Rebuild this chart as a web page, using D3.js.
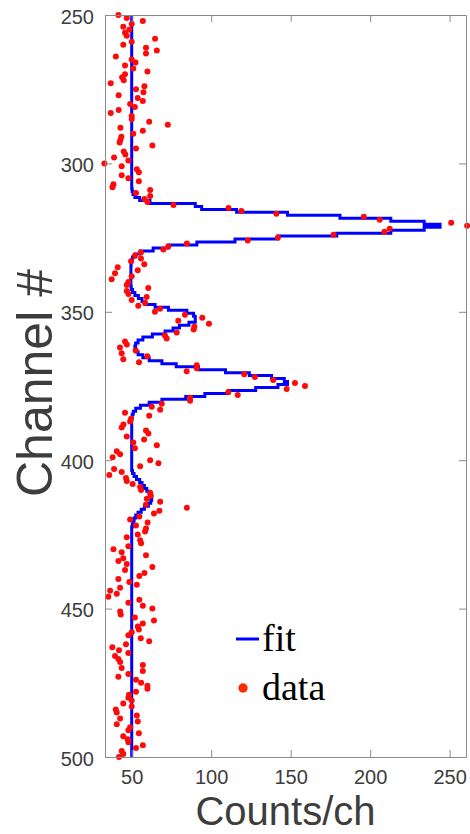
<!DOCTYPE html>
<html>
<head>
<meta charset="utf-8">
<script src="https://cdn.jsdelivr.net/npm/d3@7"></script>
<style>
  html, body { margin: 0; padding: 0; background: #fff; }
  svg { display: block; }
</style>
</head>
<body>
<svg id="chart" width="470" height="834"></svg>
<script>
// ---- data ----
const channelStart = 250;   // first channel; one value per channel below
const counts = [
  41.6, 46.9, 57, 50, 44.7, 48.5, 45.8, 46.9, 64.7, 50,          // 250-259
  44.7, 59, 65.8, 59, 40, 50, 52.4, 45.8, 51, 59.9,              // 260-269
  45.8, 44, 45, 36.8, 58, 52.7, 57.4, 41.8, 53.8, 57,            // 270-279
  49, 52, 41.8, 36.8, 50, 50, 61, 72.7, 42.9, 57,                // 280-289
  51, 43.5, 42.9, 42.4, 63, 52.7, 45, 46, 38.9, 47.9,            // 290-299
  32.8, 43.7, 53.2, 54.5, 43.7, 47.9, 54.5, 38.5, 37.9, 61.6,    // 300-309
  52.7, 61.6, 58, 59.9, 76.3, 110.9, 119, 141, 196, 206,         // 310-319
  251, 261, 212.3, 209, 177, 142, 123, 84.7, 73, 69.9,           // 320-329
  55.8, 52.1, 55.8, 49.6, 57.9, 41.2, 53.8, 39.5, 50, 37.4,      // 330-339
  47.9, 46.9, 60.4, 46.9, 48, 59.4, 50, 58.4, 54.1, 67.8,        // 340-349
  64.6, 83.5, 94.4, 79.3, 98.6, 89.4, 89, 78.3, 70.9, 72,        // 350-359
  45.8, 46.9, 42.6, 52.5, 43.7, 59.8, 44.7, 54.6, 90.9, 90.9,    // 360-369
  84.6, 120.8, 127.5, 139, 152.7, 159, 147.5, 110.8, 116.7, 86.7,// 370-379
  86.7, 68.9, 62.6, 67.9, 45.8, 61, 49.6, 49, 44.8, 43.7,        // 380-389
  59, 60.5, 46.9, 57.8, 51, 65.8, 52, 40.6, 42.7, 38,            // 390-399
  61.6, 66.8, 55.3, 38.9, 43.7, 35.9, 46.4, 46.9, 50.6, 55.3,    // 400-409
  55.9, 61.6, 62, 59.5, 67.9, 58.9, 84.7, 67.4, 64, 54.8,        // 410-419
  49, 60, 52.7, 59, 58.4, 53.8, 46.9, 55.3, 55.9, 47.9,          // 420-429
  38.5, 43.7, 59, 44.7, 41.6, 46.9, 63, 45.8, 58, 54.8,          // 430-439
  41.6, 48.5, 53.2, 42.7, 36.4, 40.6, 35.3, 54.8, 47.9, 57,      // 440-449
  63, 42.7, 43.1, 52, 64, 57, 53.8, 54.5, 50, 47.9,              // 450-459
  55.7, 61, 46.4, 37.8, 42, 47.9, 39.5, 41.6, 42.7, 57,          // 460-469
  43.7, 57, 47.9, 41.6, 52.7, 55.9, 59.9, 59.9, 52.7, 48.3,      // 470-479
  47.9, 50, 44.7, 50, 40, 40.6, 53.2, 42.7, 53.8, 40.6,          // 480-489
  49, 47.9, 54.5, 44.7, 47.5, 47.9, 57, 52.7, 43.7, 44.7,        // 490-499
  42                                                             // 500
];
const fitCounts = [
  50, 50, 50, 50, 50, 50, 50, 50, 50, 50,                        // 250-259
  50, 50, 50, 50, 50, 50, 50, 50, 50, 50,                        // 260-269
  50, 50, 50, 50, 50, 50, 50, 50, 50, 50,                        // 270-279
  50, 50, 50, 50, 50, 50, 50, 50, 50, 50,                        // 280-289
  50, 50, 50, 50, 50, 50, 50, 50, 50, 50,                        // 290-299
  50, 50, 50, 50, 50, 50, 50, 50, 50, 50.3,                      // 300-309
  50.8, 52, 55, 61.5, 90, 94, 116, 148, 181, 213,                // 310-319
  234, 244, 234, 213, 179, 142, 115, 91, 73, 63.5,               // 320-329
  55.3, 52.3, 50.5, 50, 49.6, 49.5, 49.5, 49.5, 49.5, 49.5,      // 330-339
  49.5, 49.5, 49.7, 50.5, 52, 54.2, 56.5, 58.4, 64.7, 73.1,      // 340-349
  84.7, 88.9, 90, 90, 86, 80, 76, 71, 63, 57,                    // 350-359
  54, 52.5, 52, 52.5, 54, 57, 61, 69, 78, 92,                    // 360-369
  109, 124, 138, 146, 148, 142, 128, 111, 96, 84,                // 370-379
  69, 61, 55.5, 52.5, 51, 50.3, 50, 50, 50, 50,                  // 380-389
  50, 50, 50, 50, 50, 50, 50, 50, 50, 50,                        // 390-399
  50, 50, 50, 50, 50.5, 51.5, 53, 55, 56.5, 58,                  // 400-409
  59.5, 61, 62.5, 62.6, 62, 60.5, 58, 56, 54, 52.5,              // 410-419
  51.5, 50.8, 50.4, 50, 50, 50, 50, 50, 50, 50,                  // 420-429
  50, 50, 50, 50, 50, 50, 50, 50, 50, 50,                        // 430-439
  50, 50, 50, 50, 50, 50, 50, 50, 50, 50,                        // 440-449
  50, 50, 50, 50, 50, 50, 50, 50, 50, 50,                        // 450-459
  50, 50, 50, 50, 50, 50, 50, 50, 50, 50,                        // 460-469
  50, 50, 50, 50, 50, 50, 50, 50, 50, 50,                        // 470-479
  50, 50, 50, 50, 50, 50, 50, 50, 50, 50,                        // 480-489
  50, 50, 50, 50, 50, 50, 50, 50, 50, 50,                        // 490-499
  50                                                             // 500
];
const xDomain = [33.2, 260.3];
const yDomain = [250, 500];
const xTicks = [50, 100, 150, 200, 250];
const yTicks = [250, 300, 350, 400, 450, 500];
const xLabel = "Counts/ch";
const yLabel = "Channel #";
const legendLabels = ["fit", "data"];

// ---- layout ----
const svg = d3.select("#chart");
const plot = { left: 105, right: 466, top: 15, bottom: 757 };
const x = d3.scaleLinear().domain(xDomain).range([plot.left, plot.right]);
const y = d3.scaleLinear().domain(yDomain).range([plot.top, plot.bottom]);

const axisColor = "#8a8a8a";
const textColor = "#3d3d3d";
const tickFont = "'Liberation Sans', Arial, Helvetica, sans-serif";

svg.append("defs").append("clipPath").attr("id", "clip")
  .append("rect")
  .attr("x", plot.left).attr("y", plot.top)
  .attr("width", plot.right - plot.left).attr("height", plot.bottom - plot.top);

// fit drawn as stairs (one constant level per channel)
const fitPts = [];
fitCounts.forEach((v, i) => {
  const c = channelStart + i;
  fitPts.push([v, c - 0.5], [v, c + 0.5]);
});
const line = d3.line().x(d => x(d[0])).y(d => y(d[1]));
svg.append("path")
  .attr("clip-path", "url(#clip)")
  .attr("d", line(fitPts))
  .attr("fill", "none")
  .attr("stroke", "#0000ff")
  .attr("stroke-width", 3)
  .attr("stroke-linejoin", "miter");

// data points
svg.append("g").selectAll("circle")
  .data(counts)
  .join("circle")
  .attr("cx", d => x(d))
  .attr("cy", (d, i) => y(channelStart + i))
  .attr("r", 3)
  .attr("fill", "#ff0a0a");

// axes (box with inward ticks)
function styleAxis(g) {
  g.selectAll(".domain").attr("stroke", axisColor).attr("stroke-width", 1);
  g.selectAll(".tick line").attr("stroke", axisColor).attr("stroke-width", 1);
  g.selectAll(".tick text").attr("fill", textColor)
    .style("font-family", tickFont).style("font-size", "20px");
}
svg.append("g").attr("transform", `translate(0,${plot.bottom})`)
  .call(d3.axisBottom(x).tickValues(xTicks).tickSizeInner(-7).tickSizeOuter(0).tickPadding(13))
  .call(styleAxis);
svg.append("g").attr("transform", `translate(0,${plot.top})`)
  .call(d3.axisTop(x).tickValues(xTicks).tickSizeInner(-7).tickSizeOuter(0).tickFormat(""))
  .call(styleAxis);
svg.append("g").attr("transform", `translate(${plot.left},0)`)
  .call(d3.axisLeft(y).tickValues(yTicks).tickSizeInner(-7).tickSizeOuter(0).tickPadding(11))
  .call(styleAxis)
  .call(g => g.selectAll(".tick text").attr("dy", "0.4em"));
svg.append("g").attr("transform", `translate(${plot.right},0)`)
  .call(d3.axisRight(y).tickValues(yTicks).tickSizeInner(-7).tickSizeOuter(0).tickFormat(""))
  .call(styleAxis);

// axis labels
svg.append("text")
  .attr("x", (plot.left + plot.right) / 2).attr("y", 825)
  .attr("text-anchor", "middle")
  .attr("fill", textColor)
  .style("font-family", tickFont).style("font-size", "40px")
  .text(xLabel);
svg.append("text")
  .attr("transform", `translate(52,383) rotate(-90)`)
  .attr("text-anchor", "middle")
  .attr("fill", textColor)
  .style("font-family", tickFont).style("font-size", "50px")
  .text(yLabel);

// legend
const legendFont = "'Liberation Serif', 'Times New Roman', serif";
const lg = svg.append("g");
lg.append("line")
  .attr("x1", 236).attr("x2", 259).attr("y1", 639).attr("y2", 639)
  .attr("stroke", "#0000ff").attr("stroke-width", 3);
lg.append("circle").attr("cx", 243).attr("cy", 688).attr("r", 4.7).attr("fill", "#ff2a00");
lg.append("text").attr("x", 262).attr("y", 651)
  .style("font-family", legendFont).style("font-size", "38px").attr("fill", "#000")
  .text(legendLabels[0]);
lg.append("text").attr("x", 262).attr("y", 700)
  .style("font-family", legendFont).style("font-size", "38px").attr("fill", "#000")
  .text(legendLabels[1]);
</script>
</body>
</html>
